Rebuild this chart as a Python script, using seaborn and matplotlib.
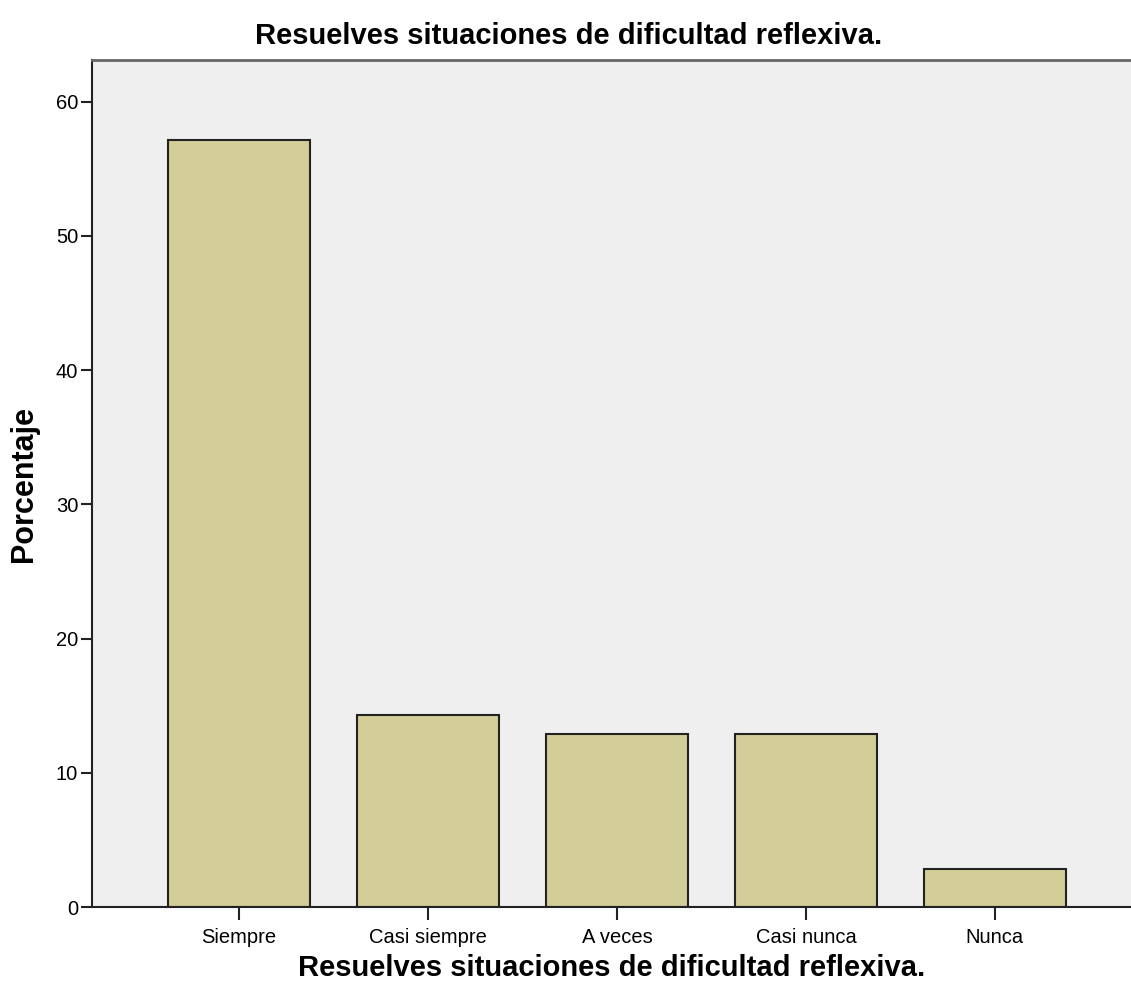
import matplotlib
matplotlib.use("Agg")
import matplotlib.pyplot as plt
import seaborn as sns
import pandas as pd

# Datos (porcentaje de respuestas)
categorias = ["Siempre", "Casi siempre", "A veces", "Casi nunca", "Nunca"]
porcentajes = [57.14, 14.29, 12.86, 12.86, 2.86]
titulo = "Resuelves situaciones de dificultad reflexiva."

df = pd.DataFrame({"cat": categorias, "pct": porcentajes})

sns.set_style("white")
plt.rcParams["font.family"] = ["Liberation Sans", "DejaVu Sans"]
plt.rcParams["text.color"] = "black"

fig = plt.figure(figsize=(11.31, 9.97), dpi=100)
ax = fig.add_axes([92 / 1131, 1 - 907 / 997, 1 - 92 / 1131, (907 - 60) / 997])
ax.set_facecolor("#efefef")

sns.barplot(data=df, x="cat", y="pct", order=categorias, color="#d3ce97",
            saturation=1, width=0.75, edgecolor="#222222", linewidth=1.5, ax=ax)

ax.set_xlim(-0.778, 4.72)
ax.set_ylim(0, 63.1)
ax.set_yticks([0, 10, 20, 30, 40, 50, 60])

for s in ["left", "bottom"]:
    ax.spines[s].set_color("#222222")
    ax.spines[s].set_linewidth(1.5)
ax.spines["top"].set_color("#666666")
ax.spines["top"].set_linewidth(2)
ax.spines["right"].set_visible(False)

ax.tick_params(axis="x", length=9, width=1.5, color="#222222", labelsize=14.5,
               labelcolor="black", pad=6)
ax.tick_params(axis="y", length=8, width=1.5, color="#222222", labelsize=14.5,
               labelcolor="black", pad=2)
ax.tick_params(axis="both", direction="out", bottom=True, left=True)

ax.set_xlabel(titulo, fontsize=21, fontweight="bold", color="black", labelpad=5)
ax.set_ylabel("Porcentaje", fontsize=22, fontweight="bold", color="black", labelpad=12)
fig.text(569 / 1131, 1 - 36 / 997, titulo, fontsize=21, fontweight="bold",
         ha="center", va="center", color="black")

fig.savefig("out.png", dpi=100)
